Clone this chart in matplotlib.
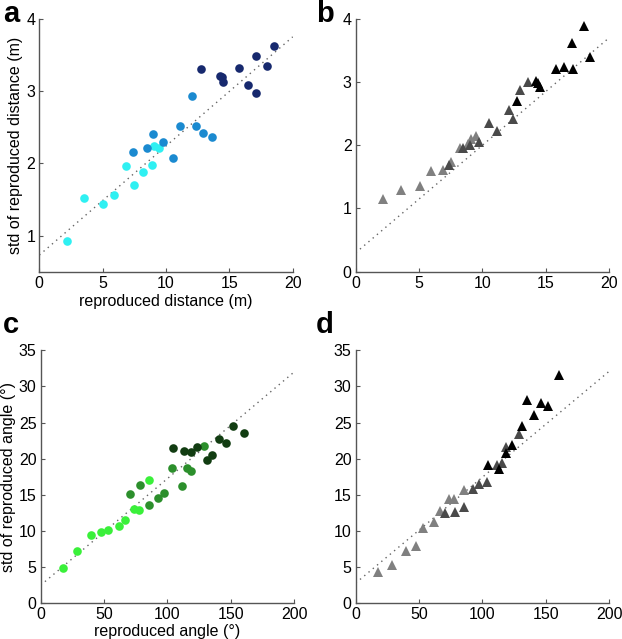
import numpy as np
import matplotlib.pyplot as plt

plt.rcParams['font.family'] = ['Liberation Sans', 'DejaVu Sans']

# distance (panels a, b): three groups
dist_x1 = [2.16, 3.55, 5.05, 5.92, 6.87, 7.50, 8.21, 8.87, 9.08, 9.47]
dist_x2 = [7.37, 8.50, 9.00, 9.76, 10.55, 11.13, 12.08, 12.39, 12.95, 13.60]
dist_x3 = [12.74, 14.24, 14.42, 14.53, 15.79, 16.45, 17.10, 17.13, 18.00, 18.53]

dist_a1 = [0.93, 1.52, 1.43, 1.56, 1.96, 1.70, 1.88, 1.97, 2.24, 2.21]
dist_a2 = [2.15, 2.21, 2.41, 2.30, 2.08, 2.51, 2.93, 2.52, 2.42, 2.37]
dist_a3 = [3.30, 3.21, 3.19, 3.12, 3.32, 3.09, 3.48, 2.97, 3.34, 3.63]

dist_b1 = [1.15, 1.29, 1.36, 1.60, 1.61, 1.73, 1.95, 2.02, 2.10, 2.14]
dist_b2 = [1.69, 1.95, 2.00, 2.05, 2.35, 2.22, 2.56, 2.41, 2.87, 3.00]
dist_b3 = [2.70, 3.02, 2.98, 2.92, 3.20, 3.23, 3.62, 3.21, 3.89, 3.39]

# angle (panels c, d)
ang_x1 = [17.4, 28.9, 39.7, 47.9, 53.4, 61.8, 66.3, 73.7, 77.4, 85.5]
ang_x2 = [70.5, 78.7, 85.3, 92.4, 97.6, 103.9, 111.3, 115.3, 118.7, 128.9]
ang_x3 = [104.2, 113.4, 118.9, 123.4, 131.1, 135.5, 141.1, 146.6, 152.1, 160.8]

ang_c1 = [4.84, 7.19, 9.40, 9.81, 10.13, 10.69, 11.52, 12.99, 12.85, 17.04]
ang_c2 = [15.15, 16.31, 13.54, 14.56, 15.29, 18.70, 16.17, 18.79, 18.29, 21.83]
ang_c3 = [21.51, 21.14, 20.87, 21.60, 19.81, 20.54, 22.80, 22.16, 24.60, 23.63]

ang_d1 = [4.28, 5.30, 7.28, 7.88, 10.41, 11.19, 12.76, 14.46, 14.46, 15.66]
ang_d2 = [12.48, 12.67, 13.27, 15.80, 16.54, 16.77, 19.07, 19.48, 21.60, 23.45]
ang_d3 = [19.12, 18.56, 20.82, 21.97, 24.50, 28.10, 26.12, 27.68, 27.27, 31.55]

# fitted lines (intercept, slope)
fit_a = (0.73, 0.151)
fit_b = (0.30, 0.170)
fit_c = (2.5, 0.1475)
fit_d = (2.8, 0.1465)

blues = ['#2ff0f2', '#1b8ad0', '#17296e']
greens = ['#3af03a', '#2c8f2c', '#123d12']
grays = ['#808080', '#4a4a4a', '#000000']

fig = plt.figure(figsize=(6.22, 6.39), dpi=100)
W, H = 0.4074, 0.3958
axa = fig.add_axes([0.0632, 0.5748, W, H])
axb = fig.add_axes([0.5719, 0.5748, W, H])
axc = fig.add_axes([0.0654, 0.0559, W, H])
axd = fig.add_axes([0.5719, 0.0559, W, H])


def style(ax):
    for s in ['top', 'right']:
        ax.spines[s].set_visible(False)
    for s in ['left', 'bottom']:
        ax.spines[s].set_color('#555555')
        ax.spines[s].set_linewidth(1.0)
    ax.tick_params(direction='in', length=3, width=0.8, color='#555555',
                   labelsize=11.5, pad=3)


def fitline(ax, fit, xmax):
    xx = np.array([0, xmax])
    ax.plot(xx, fit[0] + fit[1] * xx, linestyle=(0, (1, 3)), color='#666666',
            linewidth=1.0, zorder=1)


xs_d = [dist_x1, dist_x2, dist_x3]
xs_a = [ang_x1, ang_x2, ang_x3]

fitline(axa, fit_a, 20)
for x, y, c in zip(xs_d, [dist_a1, dist_a2, dist_a3], blues):
    axa.plot(x, y, 'o', color=c, markersize=6.2, markeredgewidth=0, zorder=2)
axa.set_xlim(0, 20)
axa.set_ylim(0.5, 4)
axa.set_xticks([0, 5, 10, 15, 20])
axa.set_yticks([1, 2, 3, 4])
axa.set_xlabel('reproduced distance (m)', fontsize=11.5, labelpad=2)
axa.set_ylabel('std of reproduced distance (m)', fontsize=11.5, labelpad=2)

fitline(axb, fit_b, 20)
for x, y, c in zip(xs_d, [dist_b1, dist_b2, dist_b3], grays):
    axb.plot(x, y, '^', color=c, markersize=6.8, markeredgewidth=0, zorder=2)
axb.set_xlim(0, 20)
axb.set_ylim(0, 4)
axb.set_xticks([0, 5, 10, 15, 20])
axb.set_yticks([0, 1, 2, 3, 4])

fitline(axc, fit_c, 200)
for x, y, c in zip(xs_a, [ang_c1, ang_c2, ang_c3], greens):
    axc.plot(x, y, 'o', color=c, markersize=6.2, markeredgewidth=0, zorder=2)
axc.set_xlim(0, 200)
axc.set_ylim(0, 35)
axc.set_xticks([0, 50, 100, 150, 200])
axc.set_yticks(range(0, 36, 5))
axc.set_xlabel('reproduced angle (°)', fontsize=11.5, labelpad=1)
axc.set_ylabel('std of reproduced angle (°)', fontsize=11.5, labelpad=2)

fitline(axd, fit_d, 200)
for x, y, c in zip(xs_a, [ang_d1, ang_d2, ang_d3], grays):
    axd.plot(x, y, '^', color=c, markersize=6.8, markeredgewidth=0, zorder=2)
axd.set_xlim(0, 200)
axd.set_ylim(0, 35)
axd.set_xticks([0, 50, 100, 150, 200])
axd.set_yticks(range(0, 36, 5))

for ax in [axa, axb, axc, axd]:
    style(ax)

for lab, x, y in [('a', 0.005, 0.978), ('b', 0.508, 0.978),
                  ('c', 0.005, 0.492), ('d', 0.508, 0.492)]:
    fig.text(x, y, lab, fontsize=21, fontweight='bold', va='center', ha='left')

fig.savefig('out.png', dpi=100)
